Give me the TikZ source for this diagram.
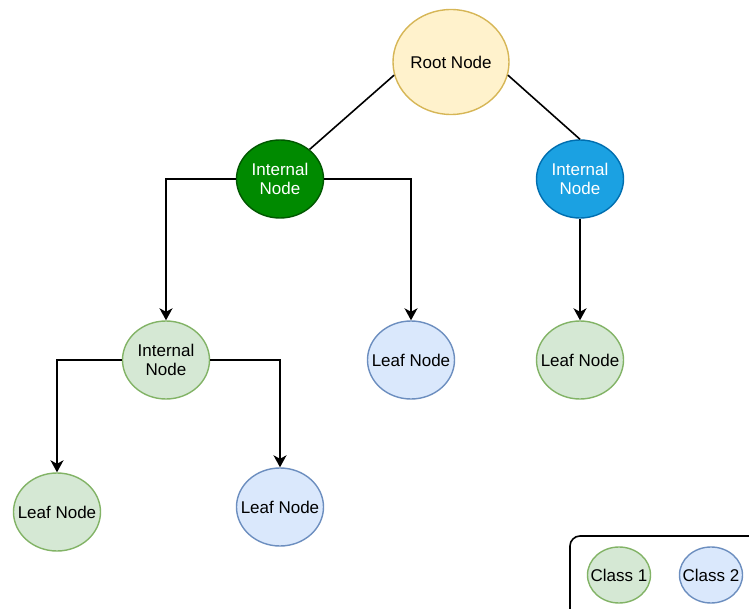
\documentclass[tikz,border=0pt]{standalone}
\usepackage{fontspec}
\setmainfont{Liberation Sans}
\usetikzlibrary{shapes.geometric,arrows.meta,positioning}

\definecolor{rootfill}{HTML}{FFF2CC}
\definecolor{rootline}{HTML}{D6B656}
\definecolor{dgfill}{HTML}{008A00}
\definecolor{dgline}{HTML}{005700}
\definecolor{dbfill}{HTML}{1BA1E2}
\definecolor{dbline}{HTML}{006EAF}
\definecolor{cafill}{HTML}{D5E8D4}
\definecolor{caline}{HTML}{82B366}
\definecolor{cbfill}{HTML}{DAE8FC}
\definecolor{cbline}{HTML}{6C8EBF}

\begin{document}
\begin{tikzpicture}[
        x=1pt, y=1pt, on grid,
        every node/.style={font=\fontsize{17}{19}\selectfont},
        tnode/.style={ellipse, draw, line width=1.4pt, inner xsep=-12pt, inner ysep=0pt, align=center, minimum width=87pt, minimum height=78pt},
        rootnode/.style={tnode, fill=rootfill, draw=rootline, minimum width=116pt, minimum height=105pt},
        greennode/.style={tnode, fill=dgfill, draw=dgline, text=white},
        bluenode/.style={tnode, fill=dbfill, draw=dbline, text=white},
        classa/.style={tnode, fill=cafill, draw=caline},
        classb/.style={tnode, fill=cbfill, draw=cbline},
        link/.style={draw, line width=1.6pt},
        line/.style={link, -{Stealth[length=12pt,width=13pt,inset=3.5pt]}}
    ]
        \clip (0,0) rectangle (749,-609);

        \node [rootnode] (root) at (451,-62) {Root Node};
        \node [greennode, below left=117pt and 171pt of root] (intA) {Internal\\Node};
        \node [bluenode, below right=117pt and 129pt of root] (intB) {Internal\\Node};
        \node [classa, below left=181pt and 114pt of intA] (intC) {Internal\\Node};
        \node [classb, below right=181pt and 131pt of intA] (leafA) {Leaf Node};
        \node [classa, below=181pt of intB] (leafB) {Leaf Node};
        \node [classa, below left=152pt and 109pt of intC] (leafC) {Leaf Node};
        \node [classb, below right=147pt and 114pt of intC] (leafD) {Leaf Node};

        % legend
        \draw [line width=1.6pt, rounded corners=10pt] (570,-536) rectangle (770,-630);
        \node [classa, minimum width=63pt, minimum height=56pt] (keyA) at (619,-575) {Class 1};
        \node [classb, minimum width=63pt, minimum height=56pt, right=92pt of keyA] (keyB) {Class 2};

        \path [link] (root.193) -- (intA.45);
        \path [link] (root.-13) -- (intB.north);
        \path [line] (intA.west) -| (intC.north);
        \path [line] (intA.east) -| (leafA.north);
        \path [line] (intB) -- (leafB);
        \path [line] (intC.west) -| (leafC.north);
        \path [line] (intC.east) -| (leafD.north);
    \end{tikzpicture}
\end{document}
